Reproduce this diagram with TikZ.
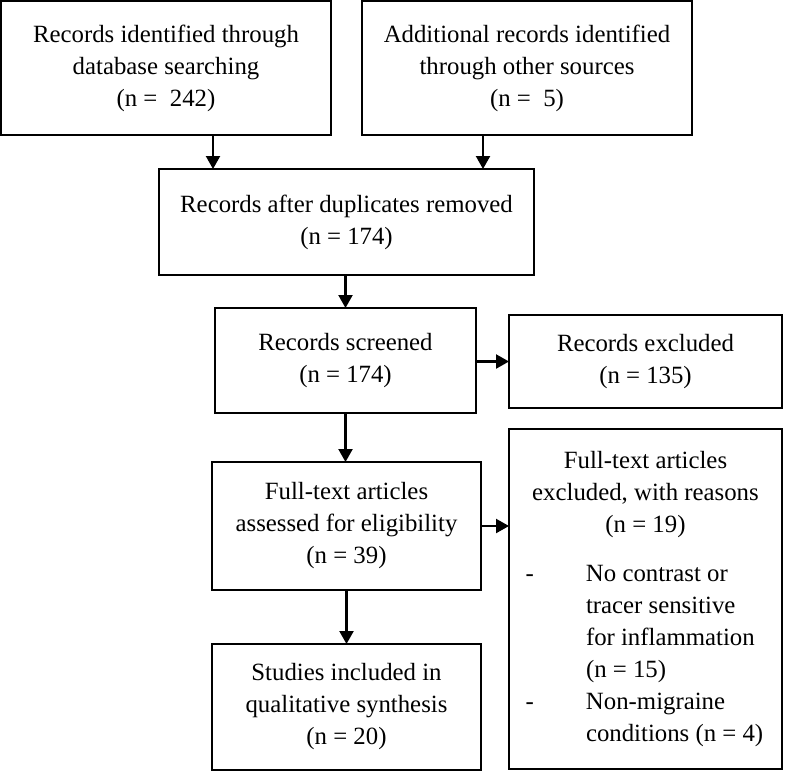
\documentclass[tikz,border=0pt]{standalone}
\usepackage{fontspec}
\setmainfont{Liberation Serif}
\usetikzlibrary{arrows.meta}
\begin{document}
\begin{tikzpicture}[x=1pt,y=-1pt,
  box/.style={draw, line width=2.2pt, rectangle, inner sep=0pt, outer sep=0pt,
    align=center, font=\fontsize{24.8}{32}\selectfont},
  arr/.style={line width=2.2pt, -{Triangle[length=13pt,width=14pt]}}]
\useasboundingbox (0,0) rectangle (786,774);
\node[box, minimum width=330pt, minimum height=134pt] (b1) at (166,68)
  {Records identified through\\database searching\\(n = \ 242)};
\node[box, minimum width=330pt, minimum height=134pt] (b2) at (527,68)
  {Additional records identified\\through other sources\\(n = \ 5)};
\node[box, minimum width=375pt, minimum height=106pt] (b3) at (346.5,222)
  {Records after duplicates removed\\(n = 174)};
\node[box, minimum width=261pt, minimum height=105pt] (b4) at (345.5,360.5)
  {Records screened\\(n = 174)};
\node[box, minimum width=273pt, minimum height=93pt] (b5) at (645.5,361.5)
  {Records excluded\\(n = 135)};
\node[box, minimum width=269pt, minimum height=128pt] (b6) at (346.5,526)
  {Full-text articles\\assessed for eligibility\\(n = 39)};
\node[box, minimum width=269pt, minimum height=126pt] (b8) at (346.5,707)
  {Studies included in\\qualitative synthesis\\(n = 20)};
\node[box, minimum width=273pt, minimum height=340pt] (b7) at (645.5,599)
  {\parbox{240pt}{\centering Full-text articles\\excluded, with reasons\\(n = 19)\par
  \vspace{17pt}\raggedright\leftskip=60.5pt
  \noindent\llap{\makebox[60.5pt][l]{-}}No contrast or\\tracer sensitive\\for inflammation\\(n = 15)\par
  \noindent\llap{\makebox[60.5pt][l]{-}}Non-migraine\\conditions (n = 4)\par}};
\coordinate (x1) at (213,0);
\coordinate (x2) at (483,0);
\draw[arr] (x1 |- b1.south) -- (x1 |- b3.north);
\draw[arr] (x2 |- b2.south) -- (x2 |- b3.north);
\draw[arr] (b4.north |- b3.south) -- (b4.north);
\draw[arr] (b4.east |- b5.west) -- (b5.west);
\draw[arr] (b4.south) -- (b4.south |- b6.north);
\draw[arr] (b6.east) -- (b6.east -| b7.west);
\draw[arr] (b6.south) -- (b8.north);
\end{tikzpicture}
\end{document}
